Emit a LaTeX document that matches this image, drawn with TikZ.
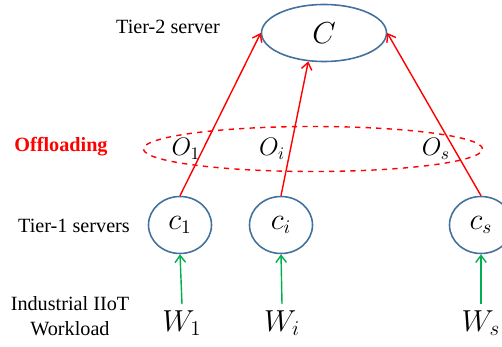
\documentclass[tikz,border=0pt]{standalone}
\usepackage{fontspec}
\setmainfont{Liberation Serif}
\usetikzlibrary{shapes.geometric,arrows.meta}
\definecolor{srvblue}{RGB}{65,113,156}
\definecolor{grn}{RGB}{0,176,80}
\begin{document}
\begin{tikzpicture}[x=0.02cm,y=-0.02cm,
  srv/.style={draw=srvblue,line width=0.9pt,ellipse,inner sep=0pt},
  redarr/.style={draw=red,line width=0.8pt,-{Straight Barb[length=4pt,width=6pt]}},
  grnarr/.style={draw=grn,line width=0.8pt,-{Straight Barb[length=4pt,width=6pt]}},
  lbl/.style={font=\fontsize{11.5}{14}\selectfont\rmfamily,align=center},
  mathlbl/.style={font=\fontsize{17}{19}\selectfont}]
\useasboundingbox (0,0) rectangle (502,347);
\node[srv,minimum width=125*0.02cm,minimum height=57*0.02cm,font=\fontsize{18}{20}\selectfont] (C) at (324,33) {$C$};
\node[draw=red,dashed,line width=0.8pt,ellipse,minimum width=339*0.02cm,minimum height=45*0.02cm] (off) at (313,149) {};
\node[srv,minimum width=63*0.02cm,minimum height=57*0.02cm,font=\fontsize{16}{18}\selectfont] (c1) at (180,225) {$c_1$};
\node[srv,minimum width=63*0.02cm,minimum height=57*0.02cm,font=\fontsize{16}{18}\selectfont] (ci) at (281,225) {$c_i$};
\node[srv,minimum width=63*0.02cm,minimum height=57*0.02cm,font=\fontsize{16}{18}\selectfont] (cs) at (481,225) {$c_s$};
\node[mathlbl] (w1) at (182,323) {$W_1$};
\node[mathlbl] (wi) at (282,323) {$W_i$};
\node[mathlbl] (ws) at (481,323) {$W_s$};
\node[font=\fontsize{14}{16}\selectfont] (o1) at (186,149) {$O_1$};
\node[font=\fontsize{14}{16}\selectfont] (oi) at (272,149) {$O_i$};
\node[font=\fontsize{14}{16}\selectfont] (os) at (436,149) {$O_s$};
\node[lbl] (t2) at (168,27) {Tier-2 server};
\node[lbl,text=red,font=\fontsize{11.5}{14}\selectfont\rmfamily\bfseries] (offl) at (61,147) {Offloading};
\node[lbl] (t1) at (74,226) {Tier-1 servers};
\node[lbl] (iw) at (70,316) {Industrial IIoT\\Workload};
\draw[redarr] (c1.north) -- (C.west);
\draw[redarr] (ci.north) -- (C.241);
\draw[redarr] (cs.north) -- (C.east);
\draw[grnarr] (w1.north) -- (c1.south);
\draw[grnarr] (wi.north) -- (ci.south);
\draw[grnarr] (ws.north) -- (cs.south);
\end{tikzpicture}
\end{document}
